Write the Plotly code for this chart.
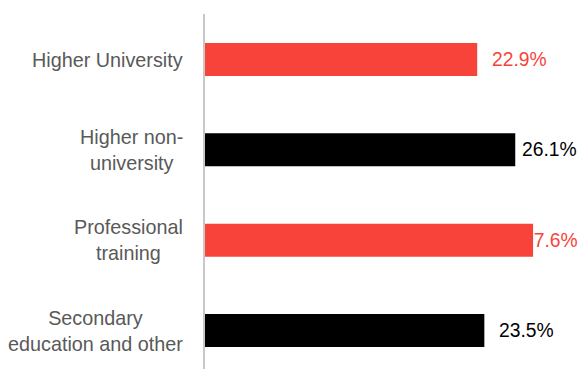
import plotly.graph_objects as go

categories = ["Higher University", "Higher non-university", "Professional training", "Secondary education and other"]
category_labels = ["Higher University", "Higher non-<br>university", "Professional<br>training", "Secondary<br>education and other"]
values = [22.9, 26.1, 27.6, 23.5]
value_labels = ["22.9%", "26.1%", "27.6%", "23.5%"]

RED = "#F8433B"
BLACK = "#000000"
GREY_TEXT = "#595959"
bar_colors = [RED, BLACK, RED, BLACK]
label_colors = [RED, BLACK, RED, BLACK]
label_xshift = [13, 5, -12, 13]

FONT = "Liberation Sans, Arial, sans-serif"

fig = go.Figure()
fig.add_trace(go.Bar(
    x=values, y=categories, orientation="h",
    marker=dict(color=bar_colors, line=dict(width=0)),
    width=0.365, hoverinfo="skip",
))

annotations = []
for cat, lab in zip(categories, category_labels):
    annotations.append(dict(
        x=0, xref="paper", y=cat, yref="y", text=lab, showarrow=False,
        xanchor="right", yanchor="middle", align="center", xshift=-20,
        font=dict(family=FONT, size=19.8, color=GREY_TEXT),
    ))
for cat, v, t, c, s in zip(categories, values, value_labels, label_colors, label_xshift):
    annotations.append(dict(
        x=v, xref="x", y=cat, yref="y", text=t, showarrow=False,
        xanchor="left", yanchor="middle", xshift=s,
        font=dict(family=FONT, size=19.3, color=c),
    ))

fig.update_layout(
    width=583, height=369,
    margin=dict(l=205, r=0, t=14, b=0),
    paper_bgcolor="white", plot_bgcolor="white",
    showlegend=False,
    font=dict(family=FONT),
    annotations=annotations,
    xaxis=dict(visible=False, range=[0, 31.8], showgrid=False, zeroline=False),
    yaxis=dict(
        type="category", categoryorder="array", categoryarray=categories,
        range=[3.426, -0.504], showticklabels=False, showgrid=False, zeroline=False,
        showline=True, linecolor="#C8C8C8", linewidth=2, ticks="",
    ),
)

fig.write_html(
    "out.html",
    config={"displayModeBar": False, "staticPlot": True},
    post_script="document.body.style.margin='0px';document.body.style.overflow='hidden';",
)
